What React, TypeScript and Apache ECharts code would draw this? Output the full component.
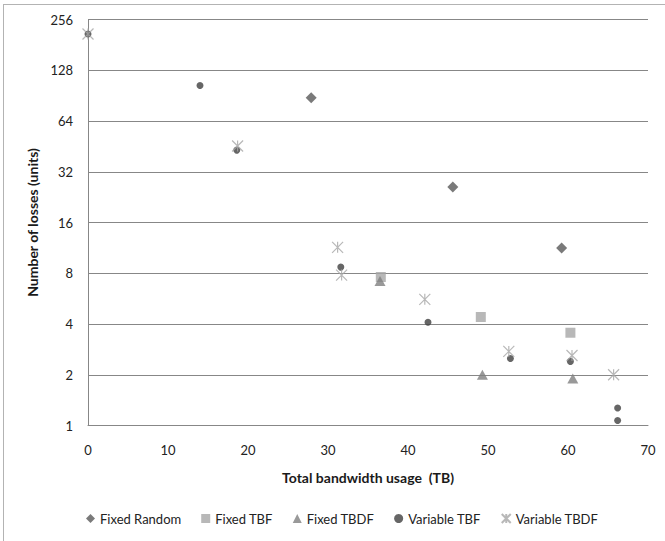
import React, { useEffect, useRef } from "react";
import * as echarts from "echarts";

const yTicks = [1, 2, 4, 8, 16, 32, 64, 128, 256];
const xTicks = [0, 10, 20, 30, 40, 50, 60, 70];

const fixedRandom: [number, number][] = [
  [27.9, 88],
  [45.6, 26],
  [59.2, 11.3],
];
const fixedTBF: [number, number][] = [
  [36.6, 7.6],
  [49.1, 4.4],
  [60.3, 3.55],
];
const fixedTBDF: [number, number][] = [
  [36.5, 7.2],
  [49.3, 2.0],
  [60.6, 1.9],
];
const variableTBF: [number, number][] = [
  [0, 210],
  [14.0, 104],
  [18.6, 43],
  [31.6, 8.7],
  [42.5, 4.1],
  [52.8, 2.5],
  [60.3, 2.4],
  [66.2, 1.27],
  [66.2, 1.07],
];
const variableTBDF: [number, number][] = [
  [0, 210],
  [18.7, 45.5],
  [31.2, 11.4],
  [31.7, 7.8],
  [42.1, 5.6],
  [52.6, 2.75],
  [60.5, 2.6],
  [65.7, 2.0],
];

const FONT = "Lato, 'Liberation Sans', sans-serif";
const STAR = "path://M0,0L10,10M10,0L0,10M5,0L5,10";

export default function App() {
  const ref = useRef<HTMLDivElement>(null);
  useEffect(() => {
    if (!ref.current) return;
    const chart = echarts.init(ref.current, null, { renderer: "svg" });
    chart.setOption({
      animation: false,
      backgroundColor: "#ffffff",
      textStyle: { fontFamily: FONT },
      grid: { left: 88, top: 19.5, width: 560, height: 406 },
      xAxis: {
        type: "value",
        min: 0,
        max: 70,
        interval: 10,
        name: "Total bandwidth usage  (TB)",
        nameLocation: "middle",
        nameGap: 45,
        nameTextStyle: { fontFamily: FONT, fontSize: 14, fontWeight: "bold", color: "#1a1a1a" },
        axisLine: { show: true, lineStyle: { color: "#878787", width: 1 } },
        axisTick: { show: false },
        splitLine: { show: false },
        axisLabel: {
          margin: 18,
          fontFamily: FONT,
          fontSize: 13,
          color: "#222",
          formatter: (v: number) => (xTicks.includes(v) ? String(v) : ""),
        },
      },
      yAxis: {
        type: "log",
        logBase: 2,
        min: 1,
        max: 256,
        splitNumber: 8,
        interval: 1,
        name: "Number of losses (units)",
        nameLocation: "middle",
        nameGap: 48,
        nameTextStyle: { fontFamily: FONT, fontSize: 14, fontWeight: "bold", color: "#1a1a1a" },
        axisLine: { show: true, lineStyle: { color: "#878787", width: 1 } },
        axisTick: { show: false },
        splitLine: { show: true, lineStyle: { color: "#878787", width: 1 } },
        axisLabel: {
          margin: 15,
          fontFamily: FONT,
          fontSize: 13,
          color: "#222",
          formatter: (v: number) => {
            const r = Math.round(v);
            return yTicks.includes(r) ? String(r) : "";
          },
        },
      },
      legend: {
        left: 81,
        top: 507,
        itemWidth: 9,
        itemHeight: 9,
        itemGap: 20,
        textStyle: { fontFamily: FONT, fontSize: 13, color: "#222" },
        data: ["Fixed Random", "Fixed TBF", "Fixed TBDF", "Variable TBF", "Variable TBDF"],
      },
      graphic: [
        { type: "line", shape: { x1: 3.5, y1: 4, x2: 3.5, y2: 541 }, style: { stroke: "#b3b3b3", lineWidth: 1 } },
        { type: "line", shape: { x1: 3, y1: 4.5, x2: 665, y2: 4.5 }, style: { stroke: "#b3b3b3", lineWidth: 1 } },
      ],
      series: [
        {
          name: "Fixed Random",
          type: "scatter",
          data: fixedRandom,
          symbol: "diamond",
          symbolSize: [11, 11],
          itemStyle: { color: "#595959" },
        },
        {
          name: "Fixed TBF",
          type: "scatter",
          data: fixedTBF,
          symbol: "rect",
          symbolSize: 10,
          itemStyle: { color: "#a6a6a6" },
        },
        {
          name: "Fixed TBDF",
          type: "scatter",
          data: fixedTBDF,
          symbol: "triangle",
          symbolSize: [11, 10],
          itemStyle: { color: "#7f7f7f" },
        },
        {
          name: "Variable TBF",
          type: "scatter",
          data: variableTBF,
          symbol: "circle",
          symbolSize: 7,
          itemStyle: { color: "#404040" },
        },
        {
          name: "Variable TBDF",
          type: "scatter",
          data: variableTBDF,
          symbol: STAR,
          symbolSize: 11,
          itemStyle: { color: "rgba(0,0,0,0)", borderColor: "#a6a6a6", borderWidth: 1.2 },
        },
      ],
    });
    return () => chart.dispose();
  }, []);
  return (
    <div
      ref={ref}
      style={{ position: "absolute", left: 0, top: 0, width: 665, height: 541 }}
    />
  );
}
